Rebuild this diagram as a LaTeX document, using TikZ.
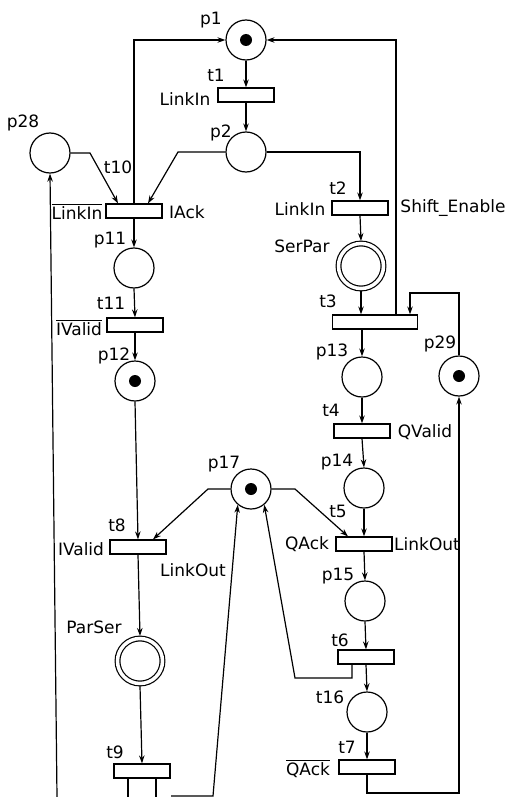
\documentclass[tikz,border=0pt]{standalone}
\usepackage{fontspec}
\setmainfont{DejaVu Sans}
\usetikzlibrary{arrows.meta}
\begin{document}
\begin{tikzpicture}[x=1pt,y=-1pt,line width=1.2pt,
  place/.style={draw,circle,minimum size=40pt,inner sep=0pt},
  dplace/.style={draw,circle,minimum size=45pt,inner sep=0pt,double,double distance=3.5pt,outer sep=2.5pt},
  token/.style={path picture={\fill (path picture bounding box.center) circle (6pt);}},
  trans/.style={draw,rectangle,minimum width=56pt,minimum height=14pt,inner sep=0pt},
  lbl/.style={font=\fontsize{17}{20}\selectfont,inner sep=0pt},
  arr/.style={-{Stealth[length=8pt,width=5.5pt]}}]
\useasboundingbox (0,0) rectangle (510,797);
% places and transitions
\node[place,token] (p1) at (246,40) {};
\node[trans] (t1) at (246,95) {};
\node[place] (p2) at (246,152) {};
\node[place] (p28) at (50,153) {};
\node[trans] (t10) at (134,211) {};
\node[trans] (t2) at (360,208) {};
\node[dplace] (SerPar) at (361,266) {};
\node[trans,minimum width=85pt] (t3) at (375,322) {};
\node[place] (p11) at (134,268) {};
\node[trans] (t11) at (135,325) {};
\node[place,token] (p12) at (135,381) {};
\node[place] (p13) at (362,377) {};
\node[place,token] (p29) at (459,376) {};
\node[trans] (t4) at (362,431) {};
\node[place] (p14) at (364,488) {};
\node[place,token] (p17) at (251,489) {};
\node[trans] (t8) at (138,547) {};
\node[trans] (t5) at (364,544) {};
\node[place] (p15) at (365,601) {};
\node[dplace] (ParSer) at (140,661) {};
\node[trans] (t6) at (366,657) {};
\node[place] (t16) at (367,712) {};
\node[trans] (t7) at (367,767) {};
\node[trans] (t9) at (142,771) {};
% bend points and free ends
\coordinate (b1) at (360,152);
\coordinate (b2) at (178,152);
\coordinate (b3) at (90,153);
\coordinate (b4) at (134,40);
\coordinate (b5) at (396,40);
\coordinate (b6) at (459,293);
\coordinate (b7) at (410,293);
\coordinate (b8) at (367,793);
\coordinate (b9) at (459,793);
\coordinate (b10) at (208,489);
\coordinate (b11) at (295,489);
\coordinate (b12) at (352,678);
\coordinate (b13) at (295,678);
\coordinate (b14) at (213,796);
\coordinate (e1) at (128,797);
\coordinate (e2) at (156,797);
\coordinate (e3) at (171,796);
\coordinate (e4) at (57,797);
% arcs
\draw[arr] (p1) -- (t1);
\draw[arr] (t1) -- (p2);
\draw[arr] (p2.east) -- (b1) -- (t2.north);
\draw[arr] (p2.west) -- (b2) -- ([xshift=14pt]t10.north);
\draw[arr] (p28.east) -- (b3) -- ([xshift=-16pt]t10.north);
\draw[arr] (t10.north) -- (b4) -- (p1.west);
\draw[arr] (t10.south) -- (p11.north);
\draw[arr] (p11.south) -- (t11.north);
\draw[arr] (t11.south) -- (p12.north);
\draw[arr] (p12.south) -- (t8.north);
\draw[arr] (t8.south) -- (ParSer.north);
\draw[arr] (ParSer.south) -- (t9.north);
\draw ([xshift=-14pt]t9.south) -- (e1);
\draw ([xshift=14pt]t9.south) -- (e2);
\draw[arr] (e3) -- (b14) -- (p17.-130);
\draw[arr] (e4) -- (p28.south);
\draw[arr] (t2.south) -- (SerPar.north);
\draw[arr] (SerPar.south) -- (t3.north -| SerPar.south);
\draw[arr] ([xshift=21pt]t3.north) -- (b5) -- (p1.east);
\draw[arr] (p29.north) -- (b6) -- (b7) -- ([xshift=35pt]t3.north);
\draw[arr] (t3.south -| p13.north) -- (p13.north);
\draw[arr] (p13.south) -- (t4.north);
\draw[arr] (t4.south) -- (p14.north);
\draw[arr] (p14.south) -- (t5.north);
\draw[arr] (p17.west) -- (b10) -- ([xshift=15pt]t8.north);
\draw[arr] (p17.east) -- (b11) -- ([xshift=-16pt]t5.north);
\draw[arr] (t5.south) -- (p15.north);
\draw[arr] (p15.south) -- (t6.north);
\draw[arr] (t6.south) -- (t16.north);
\draw[arr] (t16.south) -- (t7.north);
\draw[arr] ([xshift=-14pt]t6.south) -- (b12) -- (b13) -- (p17.-50);
\draw[arr] (t7.south) -- (b8) -- (b9) -- (p29.south);
% labels
\node[lbl] (lp1) at (211,20) {p1};
\node[lbl] (lt1) at (216,75) {t1};
\node[lbl] (lli1) at (185,99) {LinkIn};
\node[lbl] (lp2) at (221,133) {p2};
\node[lbl] (lp28) at (23,123) {p28};
\node[lbl] (lt10) at (118,167) {t10};
\node[lbl,anchor=base] (lli10) at (77,219) {$\overline{\mbox{LinkIn}}$};
\node[lbl] (liack) at (187,212) {IAck};
\node[lbl] (lp11) at (110,240) {p11};
\node[lbl] (lt2) at (338,188) {t2};
\node[lbl] (lli2) at (300,209) {LinkIn};
\node[lbl] (lse) at (453,208) {Shift\_Enable};
\node[lbl] (lserpar) at (302,246) {SerPar};
\node[lbl] (lt3) at (328,301) {t3};
\node[lbl] (lp13) at (332,352) {p13};
\node[lbl] (lp29) at (440,344) {p29};
\node[lbl] (lt4) at (331,410) {t4};
\node[lbl] (lqv) at (425,432) {QValid};
\node[lbl] (lp14) at (337,462) {p14};
\node[lbl] (lt5) at (338,511) {t5};
\node[lbl] (lt11) at (111,303) {t11};
\node[lbl,anchor=base] (liv11) at (79,335) {$\overline{\mbox{IValid}}$};
\node[lbl] (lp12) at (114,356) {p12};
\node[lbl] (lp17) at (224,464) {p17};
\node[lbl] (lt8) at (117,525) {t8};
\node[lbl] (liv8) at (81,549) {IValid};
\node[lbl] (llo8) at (193,570) {LinkOut};
\node[lbl] (lqack5) at (307,544) {QAck};
\node[lbl] (llo5) at (427,544) {LinkOut};
\node[lbl] (lp15) at (338,576) {p15};
\node[lbl] (lt6) at (340,640) {t6};
\node[lbl] (lt16) at (330,697) {t16};
\node[lbl] (lt7) at (347,747) {t7};
\node[lbl,anchor=base] (lqack7) at (308,775) {$\overline{\mbox{QAck}}$};
\node[lbl] (lparser) at (94,627) {ParSer};
\node[lbl] (lt9) at (115,752) {t9};
\end{tikzpicture}
\end{document}
